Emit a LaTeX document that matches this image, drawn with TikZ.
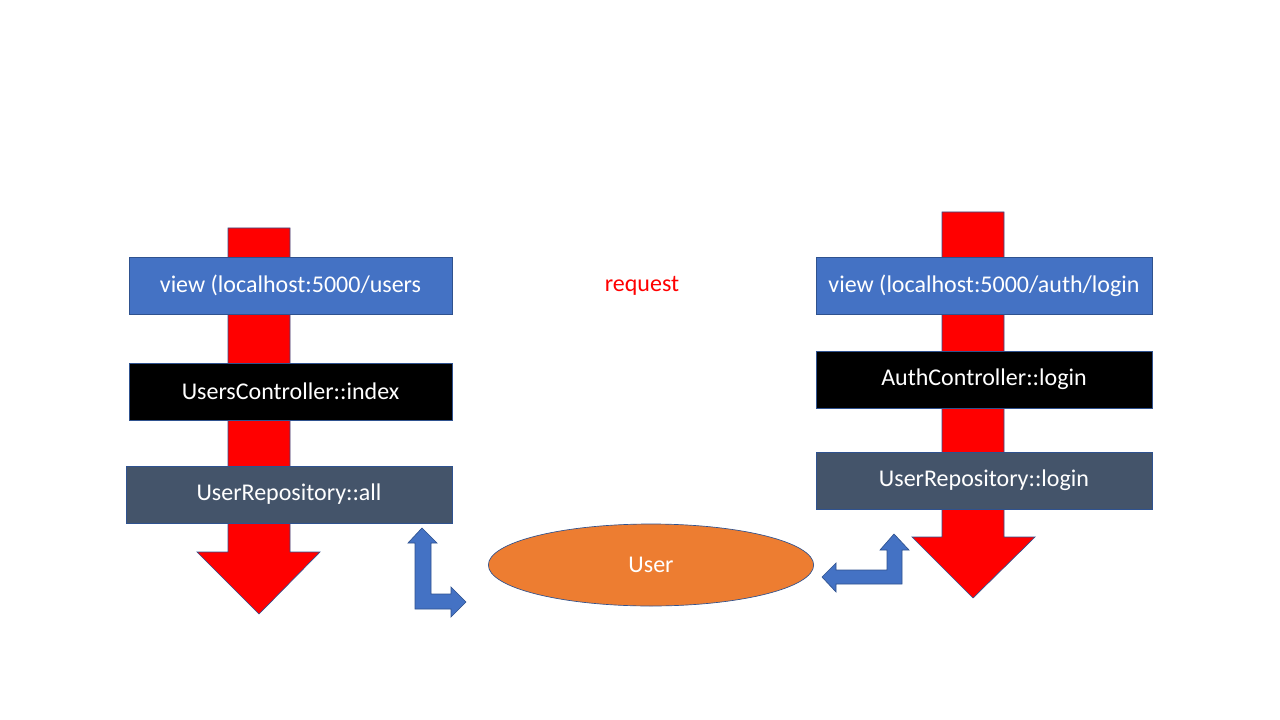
\documentclass[tikz,border=0pt]{standalone}
\usepackage{fontspec}
\setmainfont{Carlito}
\usetikzlibrary{shapes.geometric}
\definecolor{slideblue}{HTML}{4472C4}
\definecolor{slidegrey}{HTML}{44546A}
\definecolor{slideorange}{HTML}{ED7D31}
\definecolor{edgeblue}{HTML}{2F528F}
\tikzset{
	box/.style={draw=edgeblue, line width=0.5pt, text=white, minimum height=43pt, inner sep=0pt, font=\fontsize{18}{22}\selectfont},
	flow/.style={fill=red, draw=edgeblue, line width=0.5pt},
	bent/.style={fill=slideblue, draw=edgeblue, line width=0.5pt}
}
\begin{document}
\begin{tikzpicture}[x=0.75pt, y=-0.75pt]
	\useasboundingbox [fill=white] (0,0) rectangle (1280,720);
	% request flow arrows
	\draw [flow] (228,228) -- (290,228) -- (290,552) -- (320,552) -- (259,614) -- (197,552) -- (228,552) -- cycle;
	\draw [flow] (942,212) -- (1004,212) -- (1004,537) -- (1035,537) -- (973,598) -- (912,537) -- (942,537) -- cycle;
	% left column
	\node (viewusers) [box, fill=slideblue, minimum width=242pt] at (290.5,285.5) {view (localhost:5000/users};
	\node (usersctrl) [box, fill=black, minimum width=242pt] at (290.5,391.5) {UsersController::index};
	\node (repoall) [box, fill=slidegrey, minimum width=244.5pt] at (289,494.5) {UserRepository::all};
	% right column
	\node (viewlogin) [box, fill=slideblue, minimum width=252pt] at (984,286) {view (localhost:5000/auth/login};
	\node (authctrl) [box, fill=black, minimum width=252pt] at (984,379.5) {AuthController::login};
	\node (repologin) [box, fill=slidegrey, minimum width=252pt] at (984,480.5) {UserRepository::login};
	% middle
	\node (request) [text=red, font=\fontsize{18}{22}\selectfont] at (642,286) {request};
	\node (user) [ellipse, fill=slideorange, draw=edgeblue, line width=0.5pt, minimum width=244pt, minimum height=61.5pt, text=white, font=\fontsize{18}{22}\selectfont] at (651,565) {User};
	% bent arrows
	\draw [bent] (422,528) -- (437,543) -- (431,543) -- (431,594) -- (451,594) -- (451,587) -- (466,602) -- (451,617) -- (451,609) -- (415,609) -- (415,543) -- (408,543) -- cycle;
	\draw [bent] (822,577) -- (836,563) -- (836,570) -- (887,570) -- (887,550) -- (880,550) -- (894,534) -- (909,550) -- (902,550) -- (902,584) -- (836,584) -- (836,592) -- cycle;
\end{tikzpicture}
\end{document}
